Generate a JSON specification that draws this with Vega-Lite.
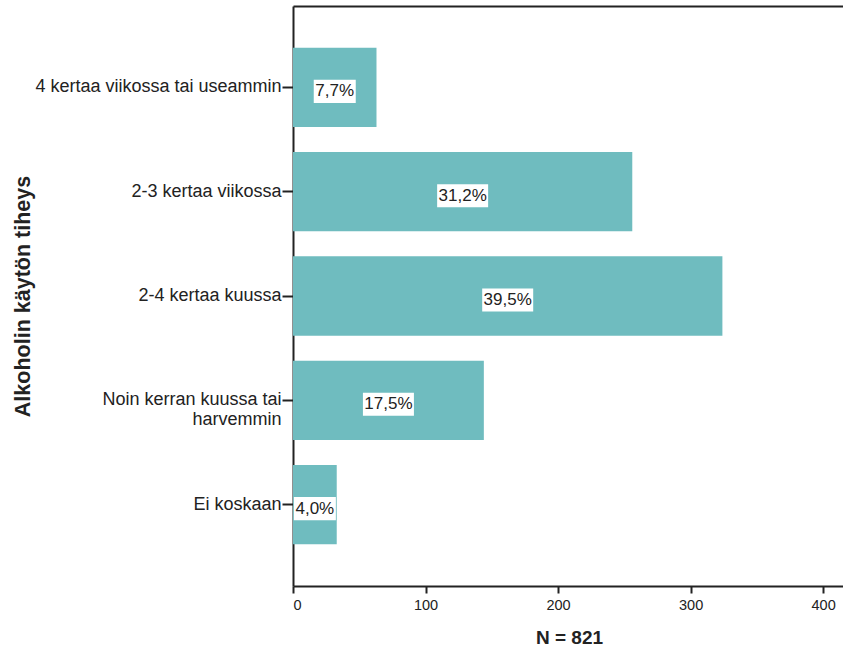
{
  "$schema": "https://vega.github.io/schema/vega-lite/v6.json",
  "width": 550,
  "height": 580,
  "autosize": "none",
  "padding": {"left": 293, "top": 6, "right": 0, "bottom": 63},
  "config": {"view": {"stroke": null}, "font": "Liberation Sans"},
  "data": {
    "values": [
      {"freq": "4 kertaa viikossa tai useammin", "count": 63, "label": "7,7%"},
      {"freq": "2-3 kertaa viikossa", "count": 256, "label": "31,2%"},
      {"freq": "2-4 kertaa kuussa", "count": 324, "label": "39,5%"},
      {"freq": "Noin kerran kuussa tai harvemmin", "count": 144, "label": "17,5%"},
      {"freq": "Ei koskaan", "count": 33, "label": "4,0%"}
    ]
  },
  "layer": [
    {
      "mark": {"type": "bar", "color": "#6fbcbf"},
      "encoding": {
        "y": {
          "field": "freq", "type": "nominal", "sort": null,
          "scale": {"paddingInner": 0.24, "paddingOuter": 0.4},
          "axis": {
            "title": "Alkoholin käytön tiheys",
            "titleFontSize": 21.5, "titleFontWeight": "bold", "titleColor": "#222",
            "titleAngle": -90, "titleX": -270, "titleY": 290,
            "titleBaseline": "middle", "titleAlign": "center",
            "domainColor": "#222", "domainWidth": 2,
            "tickColor": "#222", "tickWidth": 2, "tickSize": 11,
            "labelFontSize": 18, "labelColor": "#222", "labelPadding": 1,
            "labelLimit": 400, "labelLineHeight": 20,
            "labelExpr": "datum.value == 'Noin kerran kuussa tai harvemmin' ? ['Noin kerran kuussa tai', 'harvemmin'] : datum.label",
            "encode": {"labels": {"update": {"dy": {"signal": "datum.value == 'Noin kerran kuussa tai harvemmin' ? 5 : 2"}}}}
          }
        },
        "x": {
          "field": "count", "type": "quantitative",
          "scale": {"domain": [0, 415], "nice": false},
          "axis": {
            "values": [0, 100, 200, 300, 400], "grid": false,
            "title": "N = 821", "titleFontSize": 19, "titleFontWeight": "bold", "titleColor": "#222",
            "titleX": 276, "titleY": 51, "titleBaseline": "middle", "titleAlign": "center",
            "domainColor": "#222", "domainWidth": 2,
            "tickColor": "#222", "tickWidth": 2, "tickSize": 7,
            "labelFontSize": 14.5, "labelColor": "#222", "labelPadding": 5
          }
        }
      }
    },
    {
      "mark": {"type": "point", "filled": true, "color": "white", "opacity": 1, "strokeWidth": 0, "yOffset": 4},
      "encoding": {
        "y": {"field": "freq", "type": "nominal", "sort": null},
        "x": {
          "field": "count", "type": "quantitative",
          "scale": {"domain": [0, 830], "nice": false},
          "axis": {"orient": "top", "labels": false, "ticks": false, "grid": false, "title": null, "domainColor": "#222", "domainWidth": 2}
        },
        "shape": {"condition": {"test": "length(datum.label) > 4", "value": "M-1,-0.45H1V0.45H-1Z"}, "value": "M-1,-0.55H1V0.55H-1Z"},
        "size": {"condition": {"test": "length(datum.label) > 4", "value": 2601}, "value": 1764}
      }
    },
    {
      "mark": {"type": "text", "fontSize": 17, "color": "#222", "baseline": "middle", "align": "center", "yOffset": 4},
      "encoding": {
        "y": {"field": "freq", "type": "nominal", "sort": null},
        "x": {
          "field": "count", "type": "quantitative",
          "scale": {"domain": [0, 830], "nice": false},
          "axis": null
        },
        "text": {"field": "label"}
      }
    }
  ],
  "resolve": {"scale": {"x": "independent"}}
}
